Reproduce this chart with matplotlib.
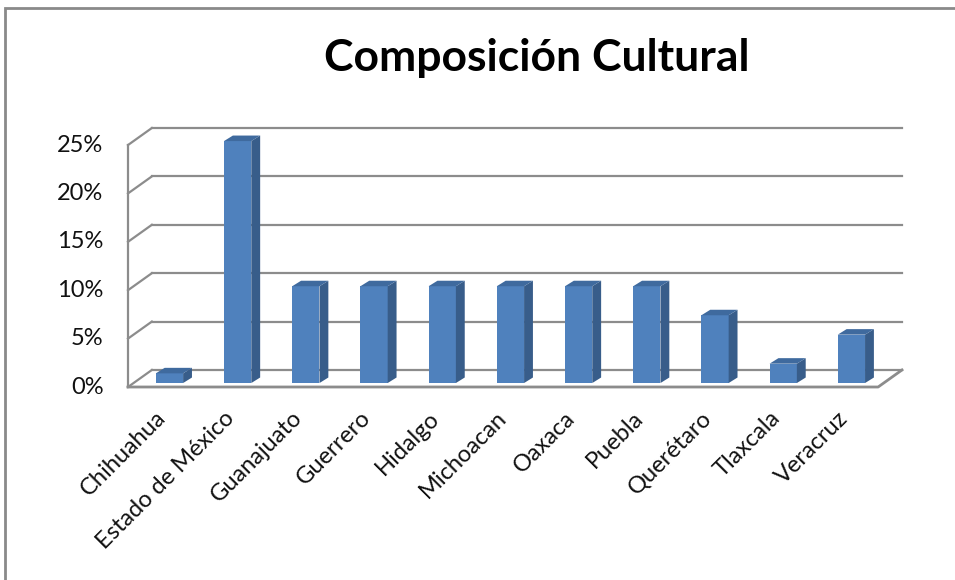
import matplotlib
matplotlib.use("Agg")
import matplotlib.pyplot as plt
from matplotlib.patches import Rectangle

plt.rcParams["font.family"] = ["Lato", "DejaVu Sans"]

# datos
estados = ["Chihuahua", "Estado de México", "Guanajuato", "Guerrero", "Hidalgo",
           "Michoacan", "Oaxaca", "Puebla", "Querétaro", "Tlaxcala", "Veracruz"]
porcentajes = [1, 25, 10, 10, 10, 10, 10, 10, 7, 2, 5]
ticks_y = [0, 5, 10, 15, 20, 25]

# efecto 3D (en unidades de datos)
DX, DY = 0.35, 1.76        # profundidad de la pared/piso
BX, BY = 0.13, 0.57        # profundidad de cada barra
x_off, base = 0.108, 0.41  # desplazamiento de la cara frontal
ancho = 0.40
gris = "#8c8c8c"

fig = plt.figure(figsize=(9.55, 5.8), dpi=100)
ax = fig.add_axes([128 / 955, (580 - 387) / 580, (902 - 128) / 955, (387 - 128) / 580])
n = len(estados)
ax.set_xlim(-0.5, n - 0.5 + DX)
ax.set_ylim(0, 25 + DY)
ax.axis("off")

# pared del fondo y pared izquierda
for v in ticks_y:
    ax.plot([-0.5 + DX, n - 0.5 + DX], [v + DY, v + DY], color=gris, lw=1.6, zorder=1, clip_on=False)
    ax.plot([-0.5, -0.5 + DX], [v, v + DY], color=gris, lw=1.6, zorder=1, clip_on=False)
    ax.text(-0.86, v, f"{v}%", ha="right", va="center", fontsize=17, color="#111111")
ax.plot([-0.5, -0.5], [0, 25], color=gris, lw=1.6, zorder=1, clip_on=False)
# piso
ax.plot([-0.5, n - 0.5, n - 0.5 + DX], [0, 0, DY], color=gris, lw=2, zorder=1, clip_on=False)

# barras
xs = [i + x_off for i in range(n)]
ax.bar(xs, porcentajes, width=ancho, bottom=base, color="#4f81bd", zorder=3)
for x, v in zip(xs, porcentajes):
    l, r = x - ancho / 2, x + ancho / 2
    top = base + v
    ax.fill([r, r + BX, r + BX, r], [base, base + BY, top + BY, top],
            color="#385d8a", zorder=3, lw=0)
    ax.fill([l, l + BX, r + BX, r], [top, top + BY, top + BY, top],
            color="#3f6a9e", zorder=3, lw=0)

for i, e in enumerate(estados):
    ax.text(i - 0.1, -2.1, e, rotation=45, rotation_mode="anchor",
            ha="right", va="top", fontsize=17, color="#111111")

fig.text(0.562, 0.9, "Composición Cultural", ha="center", va="center",
         fontsize=32, fontweight="bold")

fig.patches.append(Rectangle((5 / 955, -0.1), 1.2, (580 - 8) / 580 + 0.1,
                             transform=fig.transFigure, fill=False,
                             edgecolor="#8a8a8a", lw=2))

fig.savefig("out.png", dpi=100)
